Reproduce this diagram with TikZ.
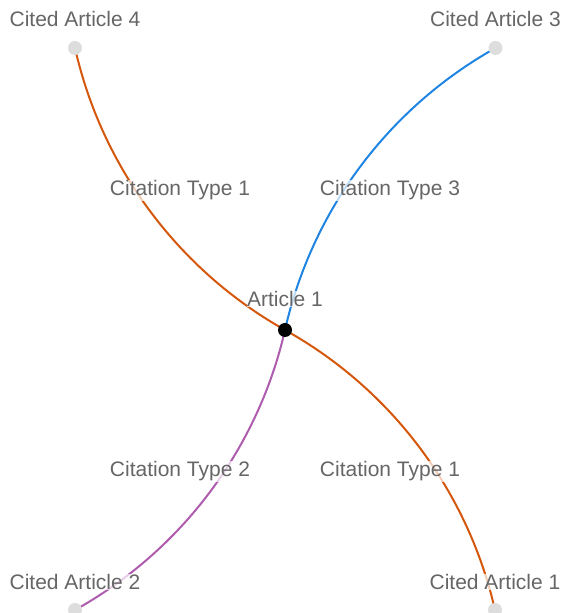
\documentclass[tikz,border=0pt]{standalone}
\usepackage{fontspec}
\setmainfont{Liberation Sans}
\definecolor{edgeorange}{HTML}{D4570B}
\definecolor{edgeblue}{HTML}{1F84E2}
\definecolor{edgepurple}{HTML}{AE5CAE}
\definecolor{nodegray}{HTML}{DDDDDD}
\definecolor{labelgray}{HTML}{666666}
\tikzset{
  leaf/.style={circle, fill=nodegray, minimum size=14pt, inner sep=0pt},
  hub/.style={circle, fill=black, minimum size=14pt, inner sep=0pt},
  link/.style={line width=2pt, bend left=24, looseness=0.89},
  lbl/.style={anchor=base, text=labelgray, font=\fontsize{21}{24}\selectfont,
    inner sep=0.5pt, fill=white, fill opacity=0.7, text opacity=1}
}
\begin{document}
\begin{tikzpicture}[x=1pt,y=1pt]
\useasboundingbox (0,0) rectangle (563,613);
\coordinate (pc) at (285,283);
\coordinate (p4) at (75,565);
\coordinate (p3) at (495.5,565);
\coordinate (p2) at (75,3);
\coordinate (p1) at (495,3);
% edges
\draw[link, edgeorange] (pc) to (p4);
\draw[link, edgeorange] (pc) to (p1);
\draw[link, edgeblue] (pc) to (p3);
\draw[link, edgepurple] (pc) to (p2);
% nodes
\node[hub] (c) at (pc) {};
\node[leaf] (a4) at (p4) {};
\node[leaf] (a3) at (p3) {};
\node[leaf] (a2) at (p2) {};
\node[leaf] (a1) at (p1) {};
% edge labels
\node[lbl] (l4) at (180,417) {Citation Type 1};
\node[lbl] (l3) at (390,417) {Citation Type 3};
\node[lbl] (l2) at (180,136) {Citation Type 2};
\node[lbl] (l1) at (390,136) {Citation Type 1};
% node labels
\node[lbl] (t4) at (75,586.3) {Cited Article 4};
\node[lbl] (t3) at (495.5,586.3) {Cited Article 3};
\node[lbl] (t2) at (75,23.7) {Cited Article 2};
\node[lbl] (t1) at (495,23.7) {Cited Article 1};
\node[lbl] (tc) at (285,306.3) {Article 1};
\end{tikzpicture}
\end{document}
